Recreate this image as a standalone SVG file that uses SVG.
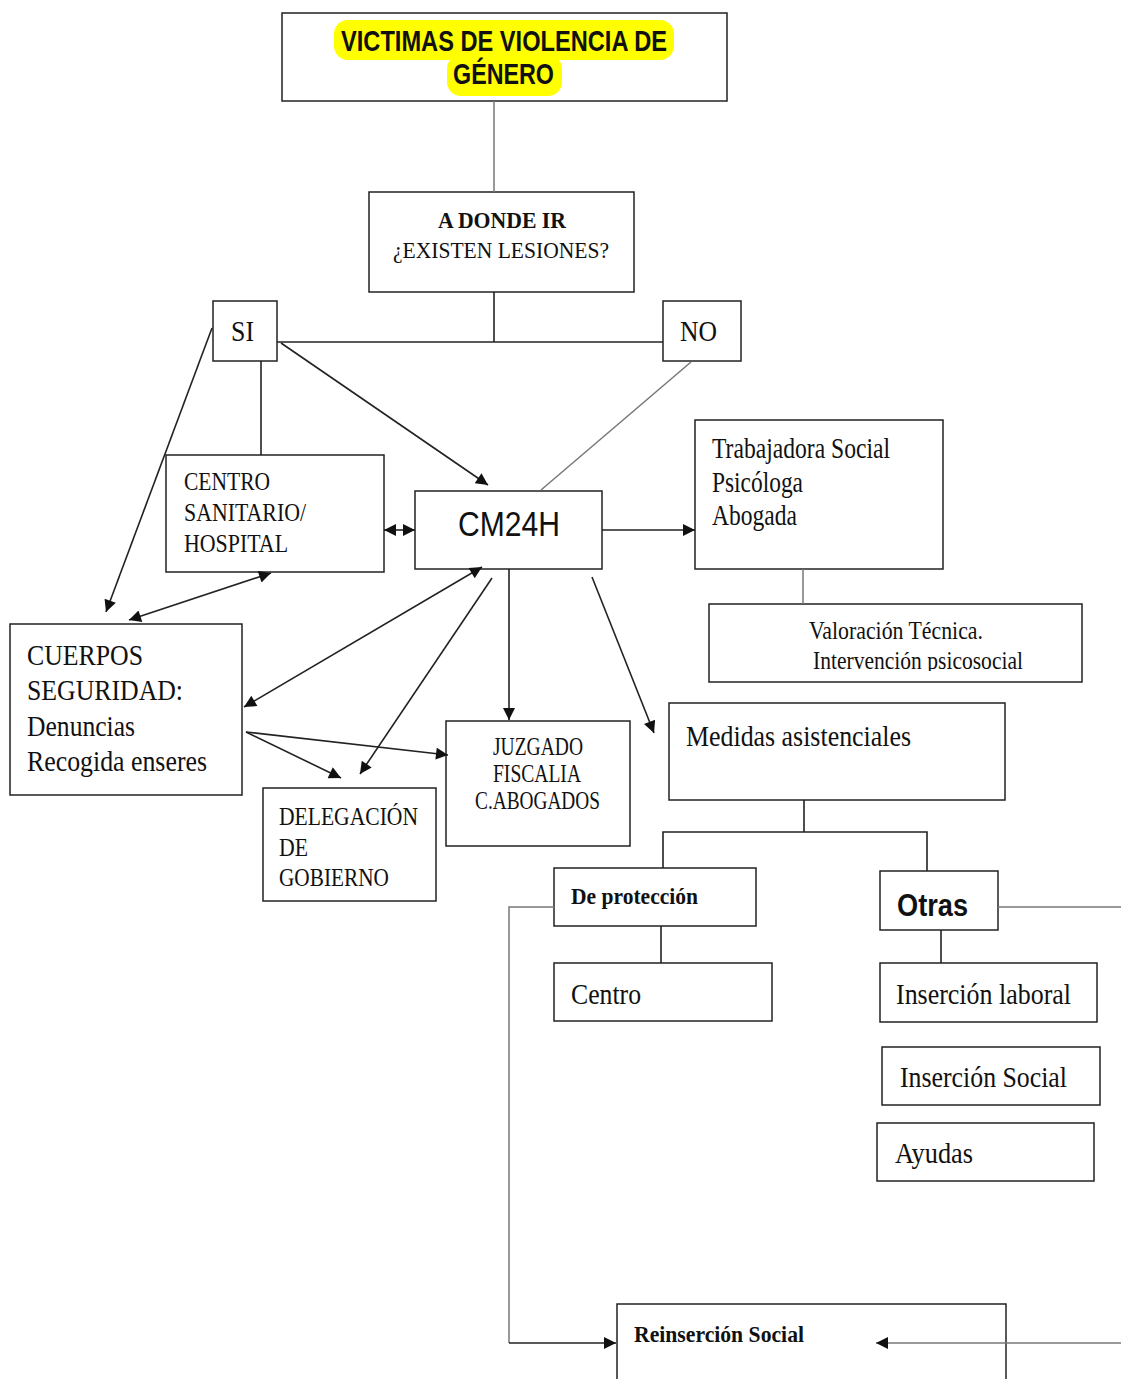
<svg xmlns="http://www.w3.org/2000/svg" width="1121" height="1379" viewBox="0 0 1121 1379">
<style>
.box{fill:#fff;stroke:#222;stroke-width:1.5}
.t{font-family:"Liberation Serif","Times New Roman",serif;fill:#111}
.a{font-family:"Liberation Sans",Arial,sans-serif;fill:#111}
.b{font-weight:bold}
.ln{fill:none;stroke:#222;stroke-width:1.6}
.lg{fill:none;stroke:#777;stroke-width:1.5}
</style>
<defs>
<marker id="arr" viewBox="0 0 10 10" refX="10" refY="5" markerWidth="16" markerHeight="12" markerUnits="userSpaceOnUse" orient="auto-start-reverse">
<path d="M0,0 L10,5 L0,10 z" fill="#111"/>
</marker>
<clipPath id="clipVal"><rect x="709" y="604" width="373" height="67"/></clipPath>
</defs>
<rect width="1121" height="1379" fill="#fff"/>

<g id="n-title">
<rect class="box" x="282" y="13" width="445" height="88"/>
<rect x="334" y="20" width="340" height="40" rx="14" fill="#ffff00"/>
<rect x="447" y="55" width="115" height="41" rx="14" fill="#ffff00"/>
<text class="a b" x="341" y="51" font-size="30" textLength="326" lengthAdjust="spacingAndGlyphs">VICTIMAS DE VIOLENCIA DE</text>
<text class="a b" x="453" y="84" font-size="30" textLength="101" lengthAdjust="spacingAndGlyphs">GÉNERO</text>
</g>

<g id="n-adonde">
<rect class="box" x="369" y="192" width="265" height="100"/>
<text class="t b" x="438" y="228" font-size="23" textLength="128" lengthAdjust="spacingAndGlyphs">A DONDE IR</text>
<text class="t" x="393" y="258" font-size="24" textLength="216" lengthAdjust="spacingAndGlyphs">¿EXISTEN LESIONES?</text>
</g>

<g id="n-si">
<rect class="box" x="213" y="301" width="64" height="60"/>
<text class="t" x="231" y="341" font-size="29" textLength="23" lengthAdjust="spacingAndGlyphs">SI</text>
</g>

<g id="n-no">
<rect class="box" x="663" y="301" width="78" height="60"/>
<text class="t" x="680" y="341" font-size="29" textLength="37" lengthAdjust="spacingAndGlyphs">NO</text>
</g>

<g id="n-centro">
<rect class="box" x="166" y="455" width="218" height="117"/>
<text class="t" x="184" y="490" font-size="26" textLength="86" lengthAdjust="spacingAndGlyphs">CENTRO</text>
<text class="t" x="184" y="521" font-size="26" textLength="122" lengthAdjust="spacingAndGlyphs">SANITARIO/</text>
<text class="t" x="184" y="552" font-size="26" textLength="104" lengthAdjust="spacingAndGlyphs">HOSPITAL</text>
</g>

<g id="n-cm24h">
<rect class="box" x="415" y="491" width="187" height="78"/>
<text class="a" x="458" y="536" font-size="35" textLength="102" lengthAdjust="spacingAndGlyphs">CM24H</text>
</g>

<g id="n-equipo">
<rect class="box" x="695" y="420" width="248" height="149"/>
<text class="t" x="712" y="458" font-size="29" textLength="178" lengthAdjust="spacingAndGlyphs">Trabajadora Social</text>
<text class="t" x="712" y="492" font-size="29" textLength="91" lengthAdjust="spacingAndGlyphs">Psicóloga</text>
<text class="t" x="712" y="525" font-size="29" textLength="85" lengthAdjust="spacingAndGlyphs">Abogada</text>
</g>

<g id="n-valoracion">
<rect class="box" x="709" y="604" width="373" height="78"/>
<g clip-path="url(#clipVal)">
<text class="t" x="809" y="639" font-size="25" textLength="174" lengthAdjust="spacingAndGlyphs">Valoración Técnica.</text>
<text class="t" x="813" y="669" font-size="25" textLength="210" lengthAdjust="spacingAndGlyphs">Intervención psicosocial</text>
</g>
</g>

<g id="n-cuerpos">
<rect class="box" x="10" y="624" width="232" height="171"/>
<text class="t" x="27" y="665" font-size="29" textLength="116" lengthAdjust="spacingAndGlyphs">CUERPOS</text>
<text class="t" x="27" y="700" font-size="29" textLength="156" lengthAdjust="spacingAndGlyphs">SEGURIDAD:</text>
<text class="t" x="27" y="736" font-size="29" textLength="108" lengthAdjust="spacingAndGlyphs">Denuncias</text>
<text class="t" x="27" y="771" font-size="29" textLength="180" lengthAdjust="spacingAndGlyphs">Recogida enseres</text>
</g>

<g id="n-delegacion">
<rect class="box" x="263" y="788" width="173" height="113"/>
<text class="t" x="279" y="825" font-size="26" textLength="139" lengthAdjust="spacingAndGlyphs">DELEGACIÓN</text>
<text class="t" x="279" y="856" font-size="26" textLength="29" lengthAdjust="spacingAndGlyphs">DE</text>
<text class="t" x="279" y="886" font-size="26" textLength="110" lengthAdjust="spacingAndGlyphs">GOBIERNO</text>
</g>

<g id="n-juzgado">
<rect class="box" x="446" y="721" width="184" height="125"/>
<text class="t" x="493" y="755" font-size="25" textLength="90" lengthAdjust="spacingAndGlyphs">JUZGADO</text>
<text class="t" x="493" y="782" font-size="25" textLength="88" lengthAdjust="spacingAndGlyphs">FISCALIA</text>
<text class="t" x="475" y="809" font-size="25" textLength="125" lengthAdjust="spacingAndGlyphs">C.ABOGADOS</text>
</g>

<g id="n-medidas">
<rect class="box" x="669" y="703" width="336" height="97"/>
<text class="t" x="686" y="746" font-size="30" textLength="225" lengthAdjust="spacingAndGlyphs">Medidas asistenciales</text>
</g>

<g id="n-proteccion">
<rect class="box" x="554" y="868" width="202" height="58"/>
<text class="t b" x="571" y="904" font-size="23" textLength="127" lengthAdjust="spacingAndGlyphs">De protección</text>
</g>

<g id="n-otras">
<rect class="box" x="880" y="871" width="118" height="59"/>
<text class="a b" x="897" y="916" font-size="31" textLength="71" lengthAdjust="spacingAndGlyphs">Otras</text>
</g>

<g id="n-centro2">
<rect class="box" x="554" y="963" width="218" height="58"/>
<text class="t" x="571" y="1004" font-size="30" textLength="70" lengthAdjust="spacingAndGlyphs">Centro</text>
</g>

<g id="n-laboral">
<rect class="box" x="880" y="963" width="217" height="59"/>
<text class="t" x="896" y="1004" font-size="30" textLength="175" lengthAdjust="spacingAndGlyphs">Inserción laboral</text>
</g>

<g id="n-social">
<rect class="box" x="882" y="1047" width="218" height="58"/>
<text class="t" x="900" y="1087" font-size="30" textLength="167" lengthAdjust="spacingAndGlyphs">Inserción Social</text>
</g>

<g id="n-ayudas">
<rect class="box" x="877" y="1123" width="217" height="58"/>
<text class="t" x="895" y="1163" font-size="30" textLength="78" lengthAdjust="spacingAndGlyphs">Ayudas</text>
</g>

<g id="n-reinsercion">
<rect class="box" x="617" y="1304" width="389" height="90"/>
<text class="t b" x="634" y="1342" font-size="23" textLength="170" lengthAdjust="spacingAndGlyphs">Reinserción Social</text>
</g>

<g id="connectors">
<line class="lg" x1="494" y1="101" x2="494" y2="192"/>
<line class="ln" x1="494" y1="292" x2="494" y2="342"/>
<line class="ln" x1="277" y1="342" x2="663" y2="342"/>
<line class="ln" x1="261" y1="361" x2="261" y2="455"/>
<line class="ln" x1="281" y1="343" x2="488" y2="485" marker-end="url(#arr)"/>
<line class="ln" x1="212" y1="328" x2="106" y2="612" marker-end="url(#arr)"/>
<line class="lg" x1="691" y1="362" x2="541" y2="490"/>
<line class="ln" x1="384" y1="530" x2="415" y2="530" marker-start="url(#arr)" marker-end="url(#arr)"/>
<line class="ln" x1="602" y1="530" x2="695" y2="530" marker-end="url(#arr)"/>
<line class="lg" x1="803" y1="569" x2="803" y2="604"/>
<line class="ln" x1="509" y1="569" x2="509" y2="720" marker-end="url(#arr)"/>
<line class="ln" x1="592" y1="577" x2="654" y2="733" marker-end="url(#arr)"/>
<line class="ln" x1="482" y1="567" x2="244" y2="707" marker-start="url(#arr)" marker-end="url(#arr)"/>
<line class="ln" x1="492" y1="578" x2="360" y2="774" marker-end="url(#arr)"/>
<line class="ln" x1="271" y1="573" x2="129" y2="620" marker-start="url(#arr)" marker-end="url(#arr)"/>
<line class="ln" x1="246" y1="732" x2="341" y2="778" marker-end="url(#arr)"/>
<line class="ln" x1="246" y1="732" x2="448" y2="755" marker-end="url(#arr)"/>
<line class="ln" x1="804" y1="800" x2="804" y2="832"/>
<polyline class="ln" points="663,868 663,832 927,832 927,871"/>
<line class="ln" x1="661" y1="926" x2="661" y2="963"/>
<line class="ln" x1="941" y1="930" x2="941" y2="963"/>
<polyline class="lg" points="554,907 509,907 509,1343"/>
<line class="ln" x1="509" y1="1343" x2="616" y2="1343" marker-end="url(#arr)"/>
<line class="lg" x1="998" y1="907" x2="1121" y2="907"/>
<line class="lg" x1="1121" y1="1343" x2="876" y2="1343" marker-end="url(#arr)"/>
</g>
</svg>
